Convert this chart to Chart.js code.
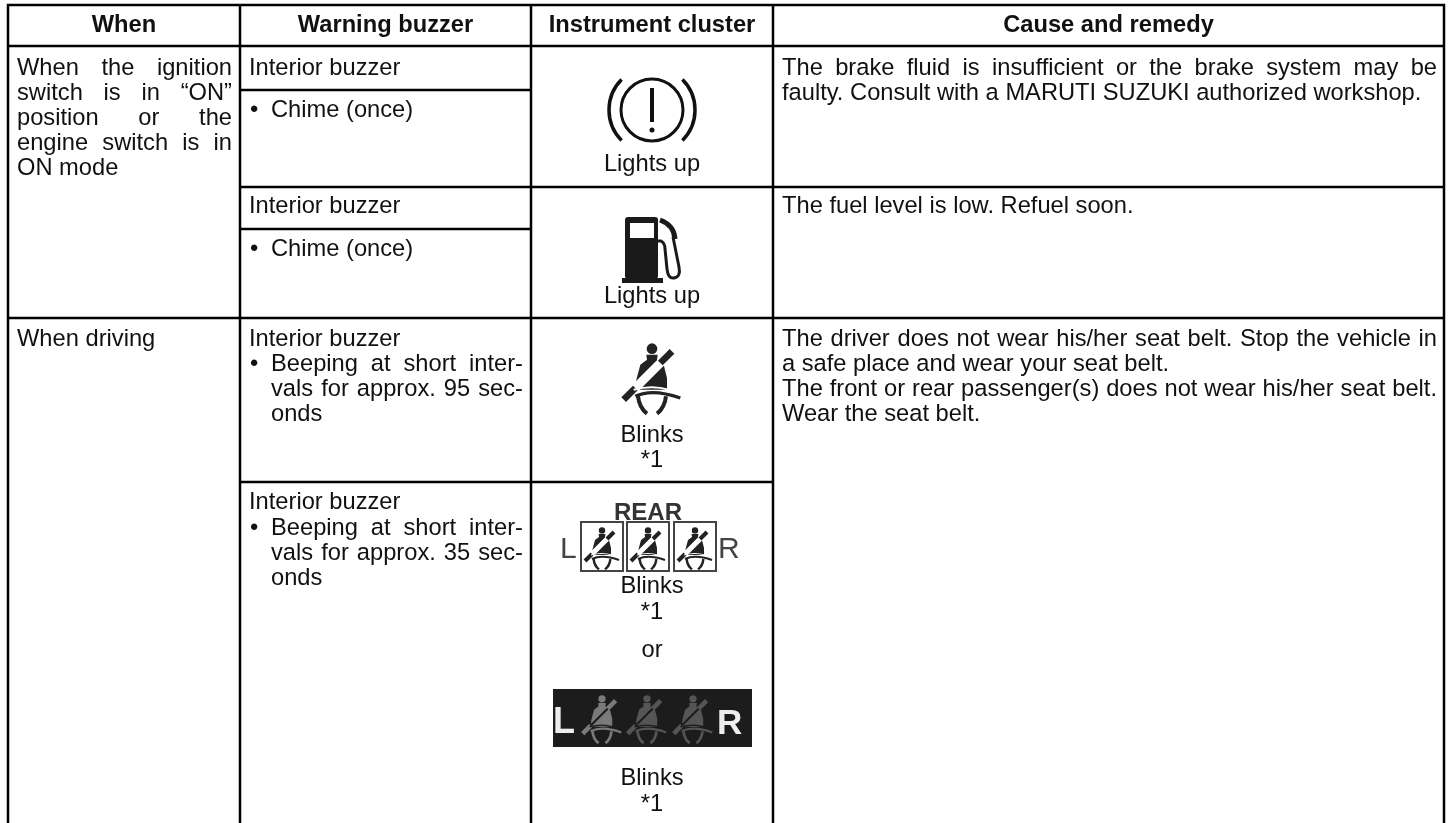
<!DOCTYPE html>
<html><head><meta charset="utf-8">
<style>html,body{margin:0;padding:0;background:#fff}canvas{display:block}</style>
<script src="https://cdn.jsdelivr.net/npm/chart.js@4"></script>
</head><body><canvas id="c" width="1452" height="823"></canvas>
<script>
const headers = ["When", "Warning buzzer", "Instrument cluster", "Cause and remedy"];
const whenIgnition = ["When the ignition", "switch is in “ON”", "position or the", "engine switch is in", "ON mode"];
const whenDriving = ["When driving"];
const buzzerTitle = "Interior buzzer";
const chime = "Chime (once)";
const beeping95 = ["Beeping at short inter-", "vals for approx. 95 sec-", "onds"];
const beeping35 = ["Beeping at short inter-", "vals for approx. 35 sec-", "onds"];
const clusterLights = "Lights up";
const clusterBlinks = ["Blinks", "*1"];
const clusterOr = "or";
const causeBrake = ["The brake fluid is insufficient or the brake system may be", "faulty. Consult with a MARUTI SUZUKI authorized workshop."];
const causeFuel = ["The fuel level is low. Refuel soon."];
const causeBelt = ["The driver does not wear his/her seat belt. Stop the vehicle in", "a safe place and wear your seat belt.", "The front or rear passenger(s) does not wear his/her seat belt.", "Wear the seat belt."];

const X = [8, 240, 531, 773, 1444];
const hRules = [[5,8,1444],[46,8,1444],[90,240,531],[187,240,1444],[229,240,531],[318,8,1444],[482,240,773]];
const vRules = X;
const rulePts = [];
hRules.forEach(r=>{rulePts.push({x:r[1],y:r[0]},{x:r[2],y:r[0]},{x:null,y:null});});
vRules.forEach(v=>{rulePts.push({x:v,y:5},{x:v,y:823},{x:null,y:null});});

const FONT = '"Liberation Sans", Arial, sans-serif';
const SIZE = 23.7;
const tablePlugin = {
  id:'table',
  afterDatasetsDraw(chart){
    const ctx=chart.ctx, sx=chart.scales.x, sy=chart.scales.y;
    const px=v=>sx.getPixelForValue(v), py=v=>sy.getPixelForValue(v);
    const put=(t,x,y,opt={})=>{
      ctx.font=(opt.bold?'bold ':'')+(opt.size||SIZE)+'px '+FONT;
      ctx.fillStyle=opt.color||'#111';
      ctx.textBaseline='alphabetic';
      ctx.textAlign=opt.align||'left';
      ctx.wordSpacing=(opt.wordSpacing!=null?opt.wordSpacing:0)+'px';
      ctx.fillText(t,px(x),py(y));
      ctx.wordSpacing='0px';
    };
    const just=(t,x0,x1,y)=>{
      ctx.font=SIZE+'px '+FONT; ctx.wordSpacing='0px';
      const w=ctx.measureText(t).width, n=t.split(' ').length-1;
      put(t,x0,y,{wordSpacing:n?(x1-x0-w)/n:0});
    };
    headers.forEach((h,i)=>put(h,(X[i]+X[i+1])/2,32,{bold:true,align:'center'}));
    // column 1
    [75,100,125,150].forEach((y,i)=>just(whenIgnition[i],17,232,y));
    put(whenIgnition[4],17,175);
    put(whenDriving[0],17,346);
    // column 2
    put(buzzerTitle,249,75); put('•',250,117); put(chime,271,117);
    put(buzzerTitle,249,213); put('•',250,256); put(chime,271,256);
    put(buzzerTitle,249,346); put('•',250,371);
    just(beeping95[0],271,523,371); just(beeping95[1],271,523,396); put(beeping95[2],271,421);
    put(buzzerTitle,249,509); put('•',250,535);
    just(beeping35[0],271,523,535); just(beeping35[1],271,523,560); put(beeping35[2],271,585);
    // column 3
    const cx=652;
    put(clusterLights,cx,171,{align:'center'});
    put(clusterLights,cx,303,{align:'center'});
    put(clusterBlinks[0],cx,442,{align:'center'}); put(clusterBlinks[1],cx,467,{align:'center'});
    put(clusterBlinks[0],cx,593,{align:'center'}); put(clusterBlinks[1],cx,619,{align:'center'});
    put(clusterOr,cx,657,{align:'center'});
    put(clusterBlinks[0],cx,785,{align:'center'}); put(clusterBlinks[1],cx,811,{align:'center'});
    // column 4
    just(causeBrake[0],782,1437,75); put(causeBrake[1],782,100);
    put(causeFuel[0],782,213);
    just(causeBelt[0],782,1437,346); put(causeBelt[1],782,371); just(causeBelt[2],782,1437,396); put(causeBelt[3],782,421);

    // icons
    brake(ctx,px(652),py(110));
    pump(ctx,px(625),py(217));
    belt(ctx,px(652),py(343),1/3,'#222','#fff',26);
    put('REAR',648,520,{bold:true,align:'center',color:'#333',size:24});
    put('L',560,558,{color:'#444',size:30});
    put('R',718,558,{color:'#444',size:30});
    [[581,602],[627,648],[674,695]].forEach(a=>{
      ctx.strokeStyle='#444';ctx.lineWidth=2;ctx.strokeRect(px(a[0]),py(522),42,49);
      belt(ctx,px(a[1]),py(527),0.2,'#222','#fff',26);
    });
    ctx.fillStyle='#1c1c1c';ctx.fillRect(px(553),py(689),199,58);
    put('L',553,733,{color:'#eee',size:36,bold:true});
    put('R',717,734,{color:'#eee',size:35,bold:true});
    [[602,'#7a7a7a'],[647,'#555'],[693,'#555']].forEach(a=>belt(ctx,px(a[0]),py(695),0.227,a[1],'#1c1c1c',9));
  }
};
function brake(ctx,x,y){
  ctx.save();ctx.strokeStyle='#111';ctx.lineWidth=3;
  ctx.beginPath();ctx.arc(x,y,31,0,Math.PI*2);ctx.stroke();
  ctx.lineWidth=3.5;
  ctx.beginPath();ctx.arc(x,y,43,-Math.PI*0.25,Math.PI*0.25);ctx.stroke();
  ctx.beginPath();ctx.arc(x,y,43,Math.PI*0.75,Math.PI*1.25);ctx.stroke();
  ctx.lineWidth=4;ctx.beginPath();ctx.moveTo(x,y-22);ctx.lineTo(x,y+12);ctx.stroke();
  ctx.fillStyle='#111';ctx.beginPath();ctx.arc(x,y+20,2.5,0,Math.PI*2);ctx.fill();
  ctx.restore();
}
function pump(ctx,x,y){
  ctx.save();ctx.fillStyle='#1a1a1a';
  ctx.beginPath();ctx.roundRect(x,y,33,62,3);ctx.fill();
  ctx.fillRect(x-3,y+61,41,5);
  ctx.fillStyle='#fff';ctx.fillRect(x+5,y+6,24,15);
  ctx.strokeStyle='#1a1a1a';ctx.lineWidth=3;
  ctx.beginPath();ctx.moveTo(x+33,y+24);ctx.lineTo(x+36,y+24);ctx.quadraticCurveTo(x+40,y+26,x+40,y+32);
  ctx.lineTo(x+42,y+52);ctx.quadraticCurveTo(x+43,y+62,x+49,y+61);ctx.quadraticCurveTo(x+56,y+60,x+54,y+50);
  ctx.lineTo(x+48,y+20);ctx.stroke();
  ctx.lineWidth=5;ctx.beginPath();ctx.moveTo(x+35,y+3);ctx.quadraticCurveTo(x+49,y+8,x+50,y+22);ctx.stroke();
  ctx.restore();
}
function belt(ctx,x,y,s,col,bg,gap){
  ctx.save();ctx.translate(x,y);ctx.scale(s,s);
  ctx.fillStyle=col;ctx.strokeStyle=col;
  ctx.beginPath();ctx.arc(0,17,16,0,Math.PI*2);ctx.fill();
  ctx.beginPath();
  ctx.moveTo(-17,35);ctx.lineTo(-15,50);ctx.lineTo(-35,65);ctx.lineTo(-47,110);ctx.lineTo(-50,140);ctx.lineTo(45,140);ctx.lineTo(45,105);ctx.lineTo(35,65);ctx.lineTo(15,50);ctx.lineTo(17,35);ctx.closePath();ctx.fill();
  ctx.lineCap='butt';
  ctx.strokeStyle=bg;ctx.lineWidth=gap;ctx.beginPath();ctx.moveTo(-85,170);ctx.lineTo(60,25);ctx.stroke();
  ctx.strokeStyle=col;ctx.lineWidth=20;
  ctx.beginPath();ctx.moveTo(-85,170);ctx.lineTo(-50,135);ctx.stroke();
  ctx.beginPath();ctx.moveTo(25,60);ctx.lineTo(60,25);ctx.stroke();
  ctx.strokeStyle=bg;ctx.lineWidth=6;ctx.beginPath();ctx.moveTo(-55,140);ctx.quadraticCurveTo(0,125,50,140);ctx.stroke();
  ctx.strokeStyle=col;ctx.lineWidth=10;
  ctx.beginPath();ctx.moveTo(-50,160);ctx.quadraticCurveTo(0,135,85,165);ctx.stroke();
  ctx.lineWidth=12;
  ctx.beginPath();ctx.moveTo(-42,160);ctx.quadraticCurveTo(-38,195,-15,212);ctx.stroke();
  ctx.beginPath();ctx.moveTo(42,160);ctx.quadraticCurveTo(38,195,15,212);ctx.stroke();
  ctx.restore();
}
new Chart(document.getElementById('c'),{
  type:'scatter',
  data:{datasets:[{data:rulePts,showLine:true,spanGaps:false,borderColor:'#000',borderWidth:2.5,borderCapStyle:'square',pointRadius:0,tension:0,clip:false}]},
  options:{responsive:false,animation:false,events:[],
    layout:{padding:0},
    plugins:{legend:{display:false},tooltip:{enabled:false},title:{display:false}},
    scales:{x:{type:'linear',min:0,max:1452,display:false},y:{type:'linear',min:0,max:823,reverse:true,display:false}}},
  plugins:[tablePlugin]
});
</script></body></html>
